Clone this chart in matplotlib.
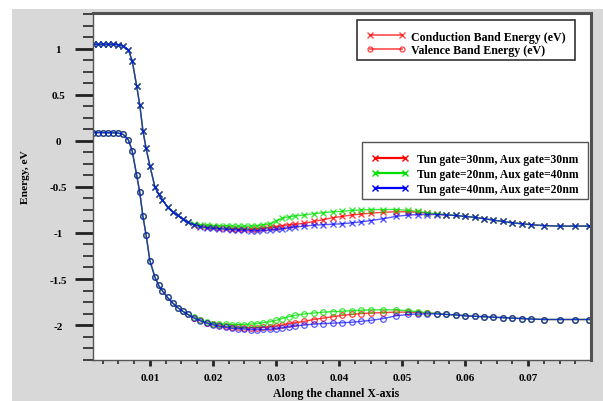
import matplotlib
matplotlib.use("Agg")
import matplotlib.pyplot as plt
from matplotlib.patches import Rectangle
from matplotlib.lines import Line2D
from matplotlib.ticker import MultipleLocator, FixedLocator

# ---------------- data ----------------
x_pos = [0.0010, 0.0018, 0.0026, 0.0034, 0.0042, 0.0050, 0.0058, 0.0066, 0.0072, 0.0079,
         0.0084, 0.0089, 0.0094, 0.0100, 0.0108, 0.0114, 0.0120, 0.0128, 0.0136, 0.0144,
         0.0152, 0.0160, 0.0170, 0.0180, 0.0190, 0.0200, 0.0210, 0.0220, 0.0230, 0.0240,
         0.0250, 0.0260, 0.0270, 0.0280, 0.0290, 0.0300, 0.0310, 0.0320, 0.0330, 0.0345,
         0.0360, 0.0375, 0.0390, 0.0405, 0.0420, 0.0435, 0.0450, 0.0470, 0.0490, 0.0510,
         0.0525, 0.0540, 0.0555, 0.0570, 0.0585, 0.0600, 0.0615, 0.0630, 0.0645, 0.0660,
         0.0675, 0.0690, 0.0705, 0.0725, 0.0750, 0.0775, 0.0797]

# Conduction band energy (eV)
cb_30_30 = [1.05, 1.05, 1.05, 1.05, 1.05, 1.045, 1.03, 0.99, 0.87, 0.60,
            0.39, 0.11, -0.08, -0.27, -0.50, -0.58, -0.64, -0.72, -0.77, -0.81,
            -0.85, -0.885, -0.91, -0.925, -0.935, -0.94, -0.945, -0.95, -0.955, -0.96,
            -0.96, -0.96, -0.955, -0.95, -0.94, -0.93, -0.92, -0.91, -0.905, -0.895,
            -0.875, -0.855, -0.835, -0.82, -0.805, -0.795, -0.785, -0.775, -0.77, -0.77,
            -0.775, -0.785, -0.795, -0.805, -0.81, -0.82, -0.83, -0.845, -0.86, -0.875,
            -0.89, -0.90, -0.91, -0.92, -0.925, -0.925, -0.925]
cb_20_40 = [1.05, 1.05, 1.05, 1.05, 1.05, 1.045, 1.03, 0.99, 0.87, 0.60,
            0.39, 0.11, -0.08, -0.27, -0.50, -0.58, -0.64, -0.72, -0.77, -0.81,
            -0.85, -0.88, -0.90, -0.91, -0.915, -0.92, -0.92, -0.92, -0.925, -0.925,
            -0.925, -0.925, -0.92, -0.91, -0.90, -0.87, -0.84, -0.825, -0.815, -0.805,
            -0.79, -0.78, -0.77, -0.765, -0.755, -0.75, -0.745, -0.745, -0.745, -0.755,
            -0.765, -0.78, -0.79, -0.80, -0.81, -0.82, -0.83, -0.845, -0.86, -0.875,
            -0.89, -0.90, -0.91, -0.92, -0.925, -0.925, -0.925]
cb_40_20 = [1.05, 1.05, 1.05, 1.05, 1.05, 1.045, 1.03, 0.99, 0.87, 0.60,
            0.39, 0.11, -0.08, -0.27, -0.50, -0.58, -0.64, -0.72, -0.77, -0.81,
            -0.85, -0.885, -0.91, -0.93, -0.945, -0.95, -0.955, -0.96, -0.965, -0.97,
            -0.972, -0.975, -0.975, -0.972, -0.968, -0.962, -0.955, -0.945, -0.935, -0.925,
            -0.915, -0.91, -0.905, -0.90, -0.89, -0.88, -0.865, -0.845, -0.82, -0.805,
            -0.80, -0.80, -0.80, -0.805, -0.81, -0.82, -0.83, -0.845, -0.86, -0.875,
            -0.89, -0.90, -0.91, -0.92, -0.925, -0.925, -0.925]

# Valence band energy (eV)
vb_30_30 = [0.09, 0.09, 0.09, 0.088, 0.088, 0.085, 0.07, 0.01, -0.11, -0.37,
            -0.56, -0.82, -1.02, -1.30, -1.48, -1.57, -1.63, -1.70, -1.76, -1.81,
            -1.85, -1.885, -1.92, -1.95, -1.975, -1.99, -2.005, -2.015, -2.02, -2.025,
            -2.03, -2.03, -2.03, -2.025, -2.02, -2.01, -2.0, -1.985, -1.975, -1.96,
            -1.94, -1.925, -1.91, -1.895, -1.885, -1.875, -1.87, -1.865, -1.86, -1.86,
            -1.865, -1.87, -1.875, -1.885, -1.89, -1.90, -1.905, -1.91, -1.915, -1.92,
            -1.925, -1.93, -1.935, -1.94, -1.94, -1.94, -1.94]
vb_20_40 = [0.09, 0.09, 0.09, 0.088, 0.088, 0.085, 0.07, 0.01, -0.11, -0.37,
            -0.56, -0.82, -1.02, -1.30, -1.48, -1.57, -1.63, -1.70, -1.76, -1.81,
            -1.85, -1.88, -1.915, -1.945, -1.97, -1.985, -1.99, -1.99, -1.995, -1.995,
            -1.995, -1.99, -1.985, -1.975, -1.965, -1.95, -1.93, -1.91, -1.895, -1.88,
            -1.87, -1.86, -1.855, -1.85, -1.845, -1.84, -1.835, -1.835, -1.835, -1.845,
            -1.855, -1.865, -1.875, -1.885, -1.89, -1.90, -1.905, -1.91, -1.915, -1.92,
            -1.925, -1.93, -1.935, -1.94, -1.94, -1.94, -1.94]
vb_40_20 = [0.09, 0.09, 0.09, 0.088, 0.088, 0.085, 0.07, 0.01, -0.11, -0.37,
            -0.56, -0.82, -1.02, -1.30, -1.48, -1.57, -1.63, -1.70, -1.76, -1.81,
            -1.85, -1.885, -1.925, -1.955, -1.98, -2.00, -2.015, -2.025, -2.035, -2.04,
            -2.045, -2.05, -2.05, -2.048, -2.045, -2.04, -2.03, -2.02, -2.01, -2.0,
            -1.99, -1.985, -1.98, -1.975, -1.97, -1.96, -1.95, -1.93, -1.90, -1.885,
            -1.88, -1.88, -1.88, -1.885, -1.89, -1.90, -1.905, -1.91, -1.915, -1.92,
            -1.925, -1.93, -1.935, -1.94, -1.94, -1.94, -1.94]

series_labels = ["Tun gate=30nm, Aux gate=30nm",
                 "Tun gate=20nm, Aux gate=40nm",
                 "Tun gate=40nm, Aux gate=20nm"]
band_labels = ["Conduction Band Energy (eV)", "Valence Band Energy (eV)"]
x_ticks = [0.01, 0.02, 0.03, 0.04, 0.05, 0.06, 0.07]
y_ticks = [-2, -1.5, -1, -0.5, 0, 0.5, 1]

# ---------------- style ----------------
plt.rcParams['font.family'] = ['Liberation Serif', 'DejaVu Serif']
plt.rcParams['font.weight'] = 'bold'
colors = ['#ff0000', '#00e000', '#0000ff']
W, H = 603, 402

fig = plt.figure(figsize=(W / 100, H / 100), dpi=100, facecolor='white')
fig.patches.append(Rectangle((12 / W, 0), 1, (H - 10) / H, transform=fig.transFigure,
                             facecolor='#d8d8d8', edgecolor='none', zorder=-10))

ax = fig.add_axes([93 / W, (H - 361) / H, (591 - 93) / W, (361 - 14) / H])
ax.set_facecolor('white')

cbs = [cb_30_30, cb_20_40, cb_40_20]
vbs = [vb_30_30, vb_20_40, vb_40_20]
for c, cb, vb in zip(colors, cbs, vbs):
    alpha = 0.75 if c != '#0000ff' else 0.65
    ax.plot(x_pos, cb, color=c, lw=1.0, marker='x', ms=4.5, mew=1.0, alpha=alpha)
    ax.plot(x_pos, vb, color=c, lw=1.0, marker='o', ms=4, mew=0.9, mfc='none', alpha=alpha)

ax.set_xlim(0.00098, 0.07997)
ax.set_ylim(-2.38, 1.39)
ax.xaxis.set_major_locator(FixedLocator(x_ticks))
ax.xaxis.set_minor_locator(MultipleLocator(0.0025))
ax.yaxis.set_major_locator(FixedLocator(y_ticks))
ax.yaxis.set_minor_locator(MultipleLocator(0.125))
ax.set_xticklabels([f"{v:g}" for v in x_ticks])
ax.set_yticklabels([f"{v:g}" for v in y_ticks])

ax.tick_params(axis='y', which='major', direction='out', length=13, width=2,
               color='#222222', pad=12, labelsize=8)
ax.tick_params(axis='y', which='minor', direction='out', length=7, width=1.3, color='#333333')
ax.tick_params(axis='x', which='major', direction='out', length=4.5, width=2,
               color='#222222', pad=5, labelsize=8)
ax.tick_params(axis='x', which='minor', direction='out', length=3, width=1.3, color='#333333')
for lab in ax.get_yticklabels():
    lab.set_horizontalalignment('center')
    lab.set_fontweight('bold')
for lab in ax.get_xticklabels():
    lab.set_fontweight('bold')

for side in ['left', 'bottom']:
    ax.spines[side].set_color('#555555')
    ax.spines[side].set_linewidth(1.0)
for side in ['top', 'right']:
    ax.spines[side].set_color('#505050')
    ax.spines[side].set_linewidth(2.2)

ax.set_ylabel("Energy, eV", fontsize=8.2, fontweight='bold')
ax.yaxis.set_label_coords((30 - 93) / 498, (361 - 177) / 347)
ax.set_xlabel("Along the channel X-axis", fontsize=8.5, fontweight='bold', va='top')
ax.xaxis.set_label_coords((336 - 93) / 498, (361 - 388) / 347)

# Legend 1 (band type)
h1 = [Line2D([0], [0], color='#ff0000', alpha=0.7, lw=1.2, marker='x', ms=4, mew=1),
      Line2D([0], [0], color='#ff0000', alpha=0.7, lw=1.2, marker='o', ms=3.5, mew=1, mfc='none')]
leg1 = ax.legend(h1, band_labels, loc='upper left',
                 bbox_to_anchor=((357 - 93) / 498, (361 - 22) / 347),
                 frameon=False, numpoints=2, prop={'weight': 'bold', 'size': 8.6},
                 handlelength=3.3, handletextpad=0.45, labelspacing=0.12, borderpad=0.3)
ax.add_artist(leg1)
ax.add_patch(Rectangle(((357 - 93) / 498, (361 - 61) / 347), (575 - 357) / 498, 40 / 347,
                       transform=ax.transAxes, facecolor='none', edgecolor='#333333',
                       lw=1.2, zorder=5, clip_on=False))

# Legend 2 (gate configuration)
h2 = [Line2D([0], [0], color=c, lw=1.6, marker='x', ms=4, mew=1) for c in colors]
leg2 = ax.legend(h2, series_labels, loc='upper left',
                 bbox_to_anchor=((362 - 93) / 498, (361 - 145) / 347),
                 frameon=False, numpoints=2, prop={'weight': 'bold', 'size': 8.4},
                 handlelength=3.2, handletextpad=0.7, labelspacing=0.25, borderpad=0.3)
ax.add_patch(Rectangle(((362 - 93) / 498, (361 - 200) / 347), (588 - 362) / 498, 57 / 347,
                       transform=ax.transAxes, facecolor='none', edgecolor='#555555',
                       lw=1.0, zorder=5, clip_on=False))

fig.savefig("out.png", dpi=100, facecolor=fig.get_facecolor())
